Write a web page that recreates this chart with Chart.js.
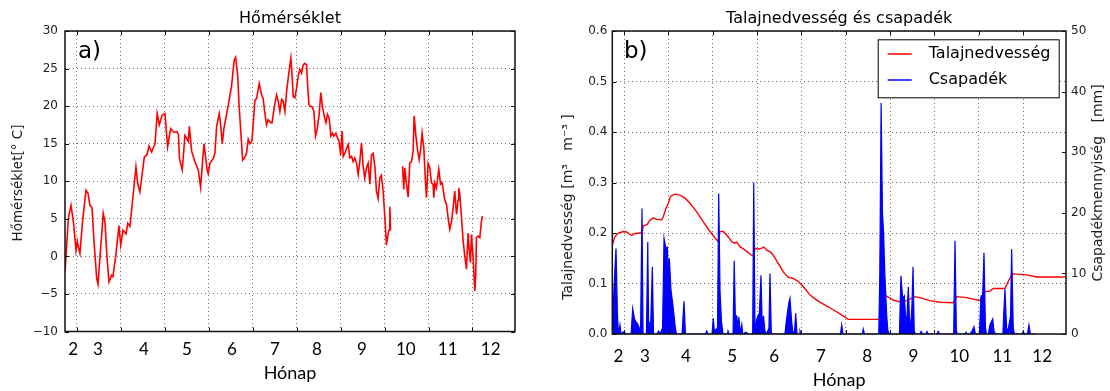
<!DOCTYPE html>
<html><head><meta charset="utf-8">
<script src="https://cdn.jsdelivr.net/npm/chart.js@4/dist/chart.umd.min.js"></script>
<style>
html,body{margin:0;padding:0;background:#fff;width:1110px;height:391px;overflow:hidden}
canvas{position:absolute;top:0}
#ca{left:0}#cb{left:555px}
</style></head><body>
<canvas id="ca" width="555" height="391"></canvas>
<canvas id="cb" width="555" height="391"></canvas>
<script>
// ---------- data ----------
const monthLabels = ['2','3','4','5','6','7','8','9','10','11','12'];
const monthPosA = [5.5, 22.5, 53.9, 83.2, 113.9, 143.2, 171.8, 202.5, 232.5, 261.1, 290.4];
const monthPosB = [4.1, 22.1, 49.9, 81.2, 109.6, 141.2, 172.5, 203.7, 234.8, 263.9, 290.9];
const gridDays = [8, 38, 68, 98, 128, 158, 188, 218, 248, 278];

const tempDays = [
 0, 2.3, 4.1, 5.8, 7.5, 8.4, 9.2, 10.2, 11.9, 14.3,
 15.7, 17.0, 18.4, 19.8, 21.6, 22.5, 23.9, 26.1, 27.3, 28.6,
 30.0, 31.8, 32.7, 34.6, 36.8, 38.0, 39.6, 41.6, 42.8, 44.3,
 46.4, 48.4, 49.6, 51.1, 54.1, 55.9, 57.3, 59.1, 61.4, 62.9,
 64.3, 66.3, 68.2, 70.0, 72.1, 74.3, 76.4, 77.4, 78.1, 80.0,
 81.8, 84.1, 84.8, 86.4, 88.6, 90.9, 92.5, 94.8, 97.0, 97.7,
 98.9, 101.1, 102.3, 103.4, 105.2, 106.2, 107.3, 108.4, 110.3, 112.0,
 113.7, 115.4, 116.4, 117.8, 118.8, 119.8, 121.2, 122.7, 123.9, 125.0,
 126.1, 127.5, 129.6, 130.7, 132.5, 134.1, 135.2, 136.4, 137.5, 138.6,
 140.3, 141.3, 142.5, 144.3, 145.4, 146.6, 147.8, 148.8, 150.0, 151.2,
 152.7, 154.1, 155.0, 155.7, 156.8, 158.0, 159.1, 160.2, 161.4, 162.5,
 163.6, 164.8, 165.5, 166.4, 167.0, 168.6, 169.8, 170.9, 172.0, 173.4,
 174.5, 175.7, 176.8, 178.0, 179.1, 180.2, 181.4, 182.5, 183.4, 184.8,
 185.9, 187.0, 188.0, 189.1, 189.8, 190.9, 192.1, 193.2, 194.3, 195.5,
 196.6, 197.7, 198.9, 200.0, 201.1, 202.3, 203.4, 204.5, 205.7, 206.8,
 208.0, 209.1, 210.2, 211.4, 212.5, 213.6, 214.8, 215.8, 217.0, 218.2,
 219.3, 220.4, 221.1, 221.6, 222.1, 226.0, 230.3, 231.1, 231.8, 233.0,
 234.1, 235.2, 236.4, 237.5, 238.2, 239.3, 240.5, 241.6, 242.5, 243.6,
 244.8, 245.9, 246.6, 247.7, 248.9, 250.0, 251.1, 251.6, 252.3, 253.4,
 255.0, 256.2, 257.3, 258.4, 259.1, 260.3, 261.3, 262.5, 263.7, 264.8,
 265.9, 267.1, 268.2, 268.6, 269.3, 270.5, 271.6, 272.7, 273.9, 275.0,
 275.7, 276.6, 277.3, 278.4, 279.6, 280.2, 280.7, 281.8, 283.0, 284.1,
 284.8];
const tempValues = [
 -2.1, 5.1, 6.8, 4.5, 0.8, 2.0, 1.2, 0.4, 4.5, 8.8,
 8.4, 6.8, 6.5, 2.0, -2.9, -3.7, 0.0, 5.7, 4.5, 0.0,
 -3.4, -2.5, -2.7, 0.0, 4.1, 1.5, 3.5, 3.0, 4.4, 4.0,
 8.0, 11.9, 9.7, 8.6, 13.2, 13.5, 14.7, 13.9, 15.0, 19.0,
 17.5, 18.8, 19.0, 14.6, 17.0, 16.5, 16.6, 16.2, 13.0, 11.5,
 16.1, 15.3, 17.3, 14.0, 12.6, 11.5, 9.2, 15.0, 11.5, 11.0,
 12.4, 13.0, 13.8, 17.2, 19.0, 17.5, 15.0, 17.0, 19.0, 20.8,
 22.8, 26.1, 26.5, 24.1, 20.0, 17.0, 12.8, 13.2, 13.8, 15.6,
 15.0, 15.3, 20.8, 21.0, 23.0, 21.5, 21.0, 19.0, 17.5, 18.2,
 17.8, 17.8, 19.5, 21.5, 20.7, 19.3, 20.9, 20.7, 19.3, 22.0,
 24.4, 26.4, 23.8, 21.3, 21.1, 22.4, 24.0, 24.9, 24.4, 25.5,
 25.7, 25.5, 22.9, 20.2, 20.0, 19.9, 19.3, 16.0, 16.9, 18.9,
 21.8, 19.8, 18.7, 17.8, 18.9, 18.4, 16.0, 16.4, 16.0, 16.4,
 15.8, 15.3, 13.5, 16.7, 13.3, 13.7, 14.4, 14.9, 13.1, 13.3,
 12.6, 13.1, 12.4, 10.9, 12.6, 15.1, 12.0, 10.4, 11.8, 12.4,
 9.6, 13.5, 13.7, 12.0, 8.7, 7.7, 10.5, 10.8, 8.8, 5.2,
 1.5, 3.0, 3.5, 6.6, 3.5, null, 12.0, 8.9, 11.8, 9.6,
 7.9, 12.4, 12.6, 14.0, 18.7, 16.2, 14.2, 12.9, 14.0, 16.4,
 14.4, 10.0, 7.8, 12.4, 11.8, 9.8, 9.6, 7.8, 9.8, 9.1,
 11.6, 9.6, 9.8, 8.4, 7.5, 6.9, 5.2, 3.6, 4.7, 6.5,
 8.7, 5.6, 7.5, 9.1, 8.4, 5.2, 2.1, 0.1, -1.7, 3.1,
 1.0, -0.8, 2.9, -0.2, -4.6, -2.4, 2.5, 2.7, 2.5, 4.7,
 5.4];

const soilDays = [
 0, 1.8, 4.1, 7.4, 9.7, 13.1, 15.4, 18.7, 19.9, 21.0,
 23.7, 25.0, 27.7, 30.0, 33.4, 34.5, 36.3, 37.9, 39.5, 42.4,
 45.8, 49.2, 52.6, 57.1, 61.6, 66.1, 69.5, 71.7, 72.5, 75.1,
 77.4, 80.8, 83.0, 84.2, 86.4, 89.8, 94.3, 95.7, 96.6, 98.8,
 101.1, 102.6, 104.5, 106.7, 108.9, 112.3, 115.7, 119.1, 122.5, 125.8,
 129.2, 133.8, 138.3, 143.9, 149.5, 154.1, 159.7, 180.7, 181.9, 184.5,
 190.1, 194.7, 199.2, 204.8, 208.2, 214.9, 221.7, 230.7, 233.0, 239.8,
 248.8, 252.2, 255.5, 257.8, 265.7, 267.9, 270.2, 271.3, 280.4, 287.2,
 306.3];
const soilValues = [
 0.176, 0.193, 0.200, 0.203, 0.202, 0.195, 0.199, 0.200, 0.200, 0.214,
 0.217, 0.224, 0.230, 0.227, 0.226, 0.232, 0.249, 0.259, 0.273, 0.277,
 0.275, 0.269, 0.259, 0.242, 0.222, 0.203, 0.190, 0.183, 0.203, 0.203,
 0.196, 0.183, 0.180, 0.182, 0.173, 0.166, 0.156, 0.155, 0.170, 0.168,
 0.170, 0.172, 0.166, 0.163, 0.156, 0.140, 0.123, 0.112, 0.110, 0.104,
 0.094, 0.077, 0.067, 0.057, 0.048, 0.040, 0.029, 0.029, 0.077, 0.077,
 0.067, 0.064, 0.066, 0.074, 0.072, 0.066, 0.063, 0.062, 0.074, 0.072,
 0.066, 0.084, 0.085, 0.090, 0.090, 0.104, 0.117, 0.119, 0.117, 0.113,
 0.113];

const precipDays = [
 0, 1.2, 2.5, 3.5, 4.2, 5.2, 5.9, 7.9, 9.3, 12.7,
 13.8, 15.0, 16.0, 16.9, 18.3, 19.1, 20.1, 20.8, 23.1, 24.0,
 24.6, 25.0, 25.8, 27.1, 27.9, 30.2, 31.3, 32.3, 34.0, 35.0,
 36.3, 37.2, 37.9, 38.6, 39.7, 41.3, 42.4, 43.4, 47.2, 48.5,
 49.5, 63.1, 63.9, 64.8, 67.5, 68.3, 69.1, 71.2, 72.0, 72.9,
 73.9, 74.9, 77.9, 78.3, 79.0, 81.7, 82.5, 83.4, 84.2, 85.0,
 85.7, 86.4, 87.6, 88.2, 90.5, 91.8, 95.0, 95.7, 96.6, 97.7,
 98.6, 99.5, 100.6, 101.5, 102.3, 103.3, 104.3, 106.0, 106.7, 107.6,
 116.8, 117.7, 118.7, 119.5, 120.2, 121.4, 122.3, 123.3, 124.1, 125.0,
 126.4, 127.0, 127.7, 154.4, 155.2, 156.1, 169.2, 169.8, 170.6, 180.3,
 181.0, 181.9, 182.8, 183.6, 184.4, 185.7, 186.5, 187.6, 194.3, 195.3,
 196.5, 197.6, 198.7, 199.4, 200.3, 201.0, 201.8, 202.8, 203.5, 204.3,
 205.1, 208.2, 208.9, 209.5, 212.2, 212.9, 213.6, 219.7, 220.4, 221.0,
 231.0, 231.9, 232.8, 233.6, 238.6, 239.3, 240.0, 242.0, 243.4, 244.7,
 245.7, 248.4, 249.5, 250.6, 251.5, 252.5, 253.2, 254.5, 255.5, 256.4,
 257.4, 258.3, 259.3, 264.3, 265.0, 265.7, 266.8, 267.7, 269.5, 270.2,
 271.3, 272.1, 277.2, 278.1, 278.9, 280.9, 281.9, 282.9, 286.0];
const precipMm = [
 0, 8, 14.1, 3, 0, 1.5, 0, 0.4, 0, 0,
 4.2, 2.5, 2, 1.8, 1, 0, 20.7, 0, 0, 15.2,
 1, 2, 0, 11.1, 0, 0, 0.5, 0, 1, 15.8,
 14.1, 14.3, 10, 12.5, 7.3, 4.2, 1.5, 0, 0, 5.4,
 0, 0, 0.5, 0, 0, 2.6, 0.5, 1, 23.2, 7,
 2, 0, 0, 0.5, 0, 0, 12.1, 1, 3.1, 1,
 2.8, 0.2, 1.6, 0, 0.3, 0, 0, 25, 0, 2.4,
 3, 3.4, 9.7, 1, 3, 0.5, 0, 1, 10, 0,
 0, 2, 3.9, 5.2, 5.9, 2, 0, 0.5, 3.4, 0,
 0, 0.5, 0, 0, 1.5, 0, 0, 0.8, 0, 0,
 10, 38.1, 20, 16.6, 10, 3, 0.5, 0, 0, 9.6,
 5.8, 6.3, 1.6, 3, 7.8, 3, 0.5, 5, 11.1, 0.5,
 0, 0, 0.4, 0, 0, 0.4, 0, 0, 0.4, 0,
 0, 15.4, 0.5, 0, 0, 0.3, 0, 0, 0.5, 1.2,
 0, 0, 6.3, 6.3, 13.4, 1, 0, 0, 1.5, 2,
 2.5, 0.5, 0, 0, 4, 7.4, 1, 0.5, 3, 14,
 1, 0, 0, 0.4, 0, 0, 1.5, 0, 0];

// ---------- helpers ----------
Chart.defaults.font.family = "'DejaVu Sans', sans-serif";
Chart.defaults.color = '#222';
const pts = (xs, ys) => xs.map((x, i) => ({x: x, y: ys[i]}));
const GRID = 'rgba(0,0,0,0.55)';

function decor(cfg) {
  return {
    id: 'decor',
    afterDraw(chart) {
      const ctx = chart.ctx, a = chart.chartArea;
      const line = (x1, y1, x2, y2) => { ctx.beginPath(); ctx.moveTo(x1, y1); ctx.lineTo(x2, y2); ctx.stroke(); };
      ctx.save();
      ctx.strokeStyle = '#111'; ctx.lineWidth = 1;
      const gx = chart.scales.xg;
      gx.ticks.forEach(t => { const p = Math.round(gx.getPixelForValue(t.value)) + 0.5;
        line(p, a.bottom, p, a.bottom - 4); line(p, a.top, p, a.top + 4); });
      const yl = chart.scales.y;
      yl.ticks.forEach(t => { const p = Math.round(yl.getPixelForValue(t.value)) + 0.5;
        line(a.left, p, a.left + 4, p); if (!cfg.y2) line(a.right, p, a.right - 4, p); });
      if (cfg.y2) {
        const yr = chart.scales.y2;
        yr.ticks.forEach(t => { const p = Math.round(yr.getPixelForValue(t.value)) + 0.5;
          line(a.right, p, a.right - 4, p); });
      }
      ctx.lineWidth = 1.5; ctx.strokeStyle = '#111';
      ctx.strokeRect(a.left, a.top, a.right - a.left, a.bottom - a.top);
      // panel tag
      ctx.fillStyle = '#000'; ctx.font = "23px 'DejaVu Sans'";
      ctx.textAlign = 'left'; ctx.textBaseline = 'alphabetic';
      ctx.fillText(cfg.tag, cfg.tagX, cfg.tagY);
      // y titles (rotated, reading upward)
      cfg.yTitles.forEach(t => {
        ctx.save(); ctx.translate(t.x, t.y); ctx.rotate(-Math.PI / 2);
        ctx.font = t.size + "px 'DejaVu Sans'"; ctx.fillStyle = '#222';
        ctx.textAlign = 'center'; ctx.textBaseline = 'middle';
        ctx.fillText(t.text, 0, 0); ctx.restore();
      });
      // legend
      if (cfg.legend) {
        const L = cfg.legend;
        ctx.fillStyle = '#fff'; ctx.fillRect(L.x, L.y, L.w, L.h);
        ctx.lineWidth = 1; ctx.strokeStyle = '#000'; ctx.strokeRect(L.x + 0.5, L.y + 0.5, L.w, L.h);
        chart.data.datasets.forEach((ds, i) => {
          const yy = L.y + L.first + i * L.step;
          ctx.strokeStyle = ds.borderColor; ctx.lineWidth = 1.5;
          line(L.x + 10, yy, L.x + 34, yy);
          ctx.fillStyle = '#000'; ctx.font = "16px 'DejaVu Sans'";
          ctx.textAlign = 'left'; ctx.textBaseline = 'middle';
          ctx.fillText(ds.label, L.x + 51, yy);
        });
      }
      ctx.restore();
    }
  };
}

function gridAxis() {
  return {
    type: 'linear', position: 'bottom', min: 0, max: 307, weight: 0,
    afterBuildTicks: s => { s.ticks = gridDays.map(v => ({value: v})); },
    ticks: {display: false},
    grid: {color: GRID, lineWidth: 1, drawTicks: false},
    border: {display: false, dash: [1, 3]},
    afterFit: s => { s.height = 0; }
  };
}
function labelAxis(pos, pad, titlePad, h) {
  return {
    type: 'linear', position: 'bottom', min: 0, max: 307, weight: 1,
    afterBuildTicks: s => { s.ticks = pos.map(v => ({value: v})); },
    ticks: {autoSkip: false, maxRotation: 0, padding: pad, color: '#000',
      font: {family: 'Lato', size: 17}, callback: (v, i) => monthLabels[i]},
    grid: {display: false, drawTicks: false},
    border: {display: false},
    title: {display: true, text: 'Hónap', color: '#000', font: {family: 'Lato', size: 18},
      padding: {top: 0, bottom: titlePad}},
    afterFit: s => { s.height = h; }
  };
}
const titleOpts = text => ({display: true, text: text, fullSize: false, color: '#000',
  font: {size: 16, weight: 'normal'}, padding: {top: 9, bottom: 2.8}});

// ---------- chart a ----------
new Chart(document.getElementById('ca'), {
  type: 'line',
  data: {datasets: [{label: 'Hőmérséklet', data: pts(tempDays, tempValues),
    borderColor: '#ff0000', borderWidth: 1.6, pointRadius: 0, tension: 0, spanGaps: false}]},
  options: {
    responsive: false, animation: false, devicePixelRatio: 1,
    layout: {padding: {left: 0, right: 40, top: 0, bottom: 0}},
    plugins: {legend: {display: false}, tooltip: {enabled: false}, title: titleOpts('Hőmérséklet')},
    scales: {
      xg: gridAxis(),
      x: labelAxis(monthPosA, 8.3, 7.5, 59.5),
      y: {min: -10, max: 30,
        ticks: {stepSize: 5, padding: 7, font: {size: 12},
          callback: v => v < 0 ? '\u2212' + (-v) : String(v)},
        grid: {color: GRID, drawTicks: false}, border: {display: false, dash: [1, 3]},
        afterFit: s => { s.width = 65; }}
    }
  },
  plugins: [decor({tag: 'a)', tagX: 78, tagY: 58,
    yTitles: [{text: 'Hőmérséklet[° C]', x: 18, y: 183, size: 13.5}]})]
});

// ---------- chart b ----------
new Chart(document.getElementById('cb'), {
  type: 'line',
  data: {datasets: [
    {label: 'Talajnedvesség', data: pts(soilDays, soilValues), yAxisID: 'y',
      borderColor: '#ff0000', borderWidth: 1.4, pointRadius: 0, tension: 0, order: 1},
    {label: 'Csapadék', data: pts(precipDays, precipMm), yAxisID: 'y2',
      borderColor: '#0000ff', backgroundColor: '#0000ff', fill: 'origin',
      borderWidth: 1.2, pointRadius: 0, tension: 0, order: 0}
  ]},
  options: {
    responsive: false, animation: false, devicePixelRatio: 1,
    layout: {padding: {left: 0, right: 0, top: 0, bottom: 0}},
    plugins: {legend: {display: false}, tooltip: {enabled: false}, title: titleOpts('Talajnedvesség és csapadék')},
    scales: {
      xg: gridAxis(),
      x: labelAxis(monthPosB, 12.5, 0, 57),
      y: {min: 0, max: 0.6, position: 'left',
        ticks: {stepSize: 0.1, padding: 5, font: {size: 12}, callback: v => v.toFixed(1)},
        grid: {color: GRID, drawTicks: false}, border: {display: false, dash: [1, 3]},
        afterFit: s => { s.width = 57.3; }},
      y2: {min: 0, max: 50, position: 'right',
        ticks: {stepSize: 10, padding: 5, font: {size: 12}},
        grid: {display: false, drawTicks: false}, border: {display: false},
        afterFit: s => { s.width = 44; }}
    }
  },
  plugins: [decor({tag: 'b)', tagX: 69, tagY: 58, y2: true,
    yTitles: [{text: 'Talajnedvesség [m³   m⁻³ ]', x: 13, y: 207, size: 14},
              {text: 'Csapadékmennyiség   [mm]', x: 543, y: 183, size: 14}],
    legend: {x: 322.7, y: 39.3, w: 181, h: 58, first: 14.7, step: 26}})]
});
</script>
</body></html>
